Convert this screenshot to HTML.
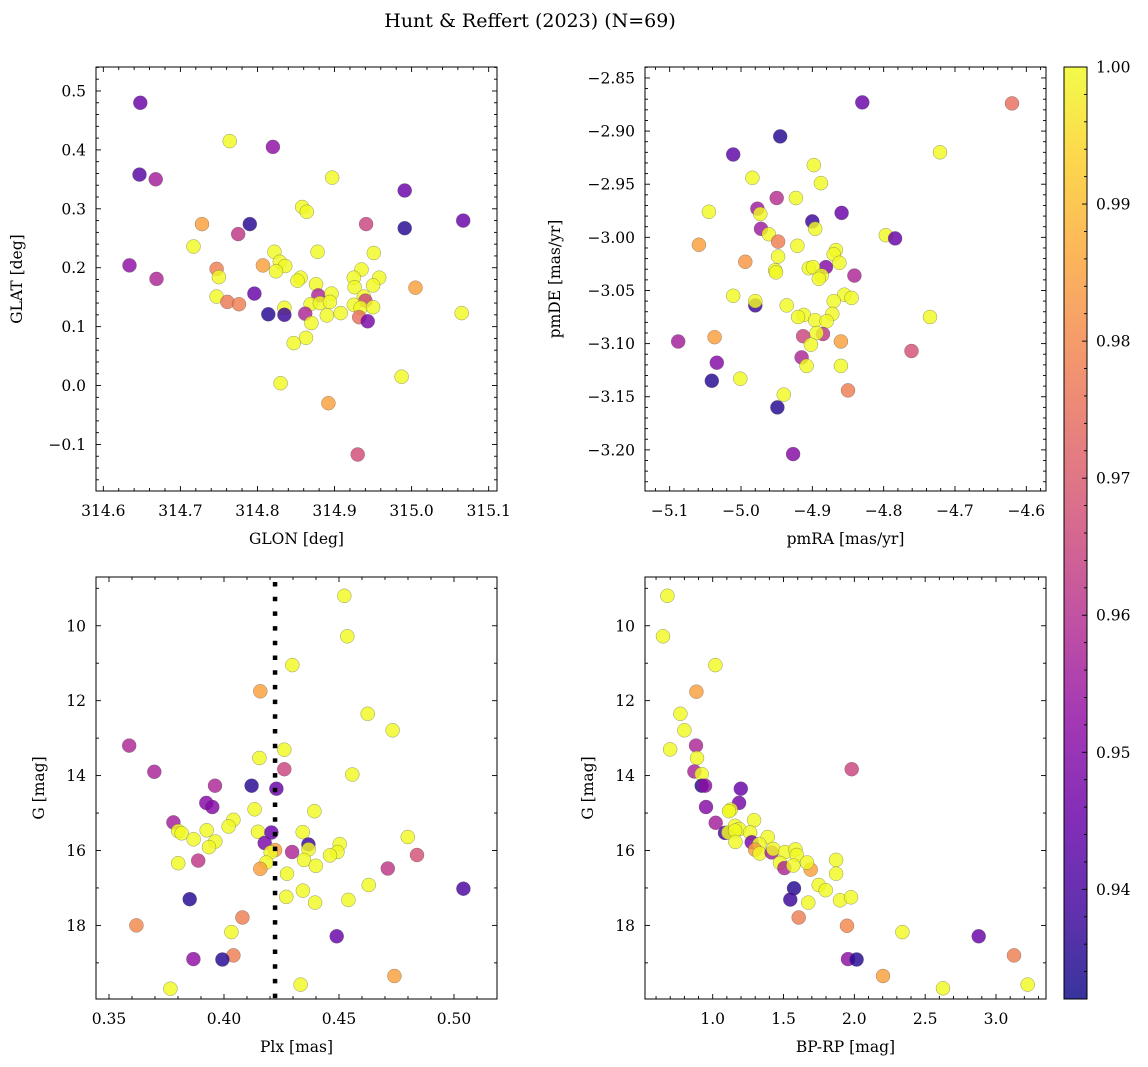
<!DOCTYPE html>
<html><head><meta charset="utf-8"><style>
html,body{margin:0;padding:0;background:#fff;}
svg{display:block;font-family:"DejaVu Serif","Liberation Serif",serif;}
</style></head><body>
<svg id="fig" width="1148" height="1067" viewBox="0 0 1148 1067" xmlns="http://www.w3.org/2000/svg">
<text x="530" y="27" font-size="19" text-anchor="middle">Hunt &amp; Reffert (2023) (N=69)</text>
</svg>
<script>
// ---- Panel 1: GLON vs GLAT ----
const p1Glon=[314.648,314.764,314.820,314.647,314.668,314.897,314.991,314.858,314.864,315.067,314.728,314.790,314.941,314.991,314.775,314.717,314.822,314.878,314.951,314.634,314.807,314.829,314.836,314.747,314.935,314.824,314.856,314.852,314.750,314.925,314.958,314.669,314.876,314.926,314.950,315.005,314.879,314.896,314.796,314.747,314.938,314.940,314.761,314.776,314.869,314.881,314.894,314.925,314.934,314.950,315.065,314.835,314.814,314.835,314.862,314.890,314.908,314.932,314.943,314.870,314.863,314.847,314.830,314.987,314.892,314.930];
const p1Glat=[0.480,0.415,0.405,0.358,0.350,0.353,0.331,0.303,0.295,0.280,0.274,0.274,0.274,0.267,0.257,0.236,0.227,0.227,0.225,0.204,0.204,0.210,0.203,0.198,0.197,0.194,0.183,0.178,0.184,0.183,0.183,0.181,0.172,0.167,0.170,0.166,0.153,0.156,0.156,0.151,0.151,0.144,0.142,0.138,0.138,0.140,0.142,0.137,0.132,0.133,0.123,0.132,0.121,0.120,0.122,0.119,0.123,0.116,0.109,0.106,0.081,0.072,0.004,0.015,-0.030,-0.117];
const p1Prob=[0.945,1,0.952,0.942,0.956,1,0.945,1,1,0.945,0.985,0.935,0.965,0.935,0.962,1,1,1,1,0.952,0.985,1,1,0.978,1,1,1,1,1,1,1,0.958,1,1,1,0.985,0.958,1,0.945,1,1,0.965,0.977,0.978,1,1,1,1,1,1,1,1,0.935,0.938,0.958,1,1,0.975,0.948,1,1,1,1,1,0.985,0.967];
// ---- Panel 2: pmRA vs pmDE ----
const p2Pmra=[-4.830,-4.620,-4.945,-5.011,-4.721,-4.898,-4.984,-4.888,-4.950,-4.923,-4.977,-4.973,-5.045,-4.859,-4.900,-4.896,-4.972,-4.961,-4.797,-4.784,-5.059,-4.948,-4.921,-4.867,-4.870,-4.948,-4.862,-4.994,-4.881,-4.905,-4.899,-4.887,-4.891,-4.952,-4.951,-4.841,-5.011,-4.855,-4.845,-4.980,-4.980,-4.936,-4.870,-4.912,-4.920,-4.872,-4.896,-4.880,-4.735,-5.088,-5.037,-4.913,-4.885,-4.894,-4.902,-4.860,-4.761,-5.034,-4.915,-4.908,-4.860,-5.041,-5.001,-4.940,-4.850,-4.949,-4.927];
const p2Pmde=[-2.873,-2.874,-2.905,-2.922,-2.920,-2.932,-2.944,-2.949,-2.963,-2.963,-2.973,-2.978,-2.976,-2.977,-2.985,-2.992,-2.992,-2.997,-2.998,-3.001,-3.007,-3.004,-3.008,-3.012,-3.016,-3.018,-3.024,-3.023,-3.028,-3.029,-3.028,-3.036,-3.039,-3.031,-3.033,-3.036,-3.055,-3.054,-3.057,-3.064,-3.060,-3.064,-3.060,-3.073,-3.075,-3.072,-3.078,-3.079,-3.075,-3.098,-3.094,-3.093,-3.091,-3.090,-3.101,-3.098,-3.107,-3.118,-3.113,-3.121,-3.121,-3.135,-3.133,-3.148,-3.144,-3.160,-3.204];
const p2Prob=[0.945,0.975,0.935,0.943,1,1,1,1,0.960,1,0.955,1,1,0.945,0.938,1,0.955,1,1,0.945,0.985,0.978,1,1,1,1,1,0.983,0.950,1,1,1,1,1,1,0.958,1,1,1,0.938,1,1,1,1,1,1,1,1,1,0.956,0.985,0.965,0.962,1,1,0.985,0.968,0.950,0.958,1,1,0.935,1,1,0.978,0.935,0.950];
// ---- Panel 3: Plx vs G ----
const p3Plx=[0.4523,0.4536,0.4297,0.4158,0.4625,0.4733,0.3588,0.4262,0.4154,0.4262,0.3697,0.4558,0.3961,0.4120,0.4228,0.3923,0.3949,0.4133,0.4393,0.3780,0.4041,0.4020,0.3925,0.3801,0.3816,0.4148,0.4206,0.4342,0.3868,0.3962,0.3935,0.4177,0.4367,0.4503,0.4799,0.4222,0.4203,0.4296,0.4368,0.4493,0.4461,0.4839,0.3888,0.3801,0.4184,0.4348,0.4399,0.4158,0.4712,0.4274,0.4629,0.5041,0.4343,0.3851,0.4271,0.4396,0.4541,0.4080,0.3619,0.4032,0.4490,0.4041,0.3867,0.3993,0.4741,0.4333,0.3767];
const p3G=[9.20,10.28,11.05,11.75,12.35,12.79,13.20,13.31,13.53,13.83,13.90,13.97,14.27,14.27,14.35,14.73,14.84,14.90,14.95,15.25,15.18,15.36,15.46,15.48,15.54,15.50,15.52,15.51,15.70,15.76,15.91,15.80,15.84,15.83,15.64,15.99,16.05,16.04,15.97,16.04,16.13,16.12,16.27,16.34,16.32,16.25,16.41,16.49,16.48,16.62,16.92,17.02,17.07,17.30,17.24,17.39,17.32,17.79,18.00,18.18,18.29,18.80,18.90,18.91,19.35,19.58,19.69];
const p3Prob=[1,1,1,0.985,1,1,0.958,1,1,0.965,0.957,1,0.958,0.935,0.945,0.950,0.950,1,1,0.956,1,1,1,1,1,1,0.945,1,1,1,1,0.948,0.938,1,1,0.985,1,0.958,1,1,1,0.968,0.962,1,1,1,1,0.985,0.962,1,1,0.940,1,0.935,1,1,1,0.978,0.980,1,0.945,0.978,0.952,0.935,0.985,1,1];
const plxCut=0.4222;
// ---- Panel 4: BP-RP vs G ----
const p4Bprp=[0.680,0.649,1.019,0.885,0.772,0.800,0.699,0.882,0.889,1.981,0.871,0.922,0.922,0.946,1.198,1.186,0.953,1.127,1.115,1.292,1.021,1.087,1.111,1.158,1.188,1.158,1.264,1.160,1.388,1.275,1.329,1.299,1.332,1.416,1.428,1.511,1.584,1.593,1.475,1.506,1.569,1.692,1.666,1.871,1.871,1.748,1.798,1.574,1.548,1.675,1.899,1.976,1.607,1.948,2.339,2.878,3.127,1.955,2.016,2.202,2.626,3.224];
const p4G=[9.20,10.28,11.05,11.76,12.35,12.79,13.30,13.20,13.53,13.83,13.89,13.96,14.27,14.27,14.35,14.73,14.84,14.91,14.95,15.19,15.26,15.53,15.52,15.34,15.43,15.47,15.52,15.77,15.64,15.78,15.83,15.98,16.08,16.05,15.96,16.04,15.97,16.12,16.33,16.47,16.40,16.51,16.32,16.25,16.62,16.92,17.06,17.01,17.31,17.39,17.33,17.25,17.79,18.01,18.18,18.29,18.80,18.90,18.91,19.35,19.68,19.58];
const p4Prob=[1,1,1,0.985,1,1,1,0.958,1,0.965,0.957,1,0.935,0.952,0.945,0.948,0.950,1,1,1,0.956,0.940,1,1,1,1,1,1,1,0.948,1,0.985,1,0.956,1,1,1,1,1,0.958,1,0.985,1,1,1,1,1,0.935,0.938,1,1,1,0.978,0.980,1,0.945,0.978,0.952,0.935,0.985,1,1];
// ---- Colorbar ----
const cbTicks=[0.94,0.95,0.96,0.97,0.98,0.99,1.00];
const cbMin=0.932, cbMax=1.0;

const NS="http://www.w3.org/2000/svg";
const svg=document.getElementById('fig');
function mk(tag,attrs,parent){const e=document.createElementNS(NS,tag);for(const k in attrs)e.setAttribute(k,attrs[k]);(parent||svg).appendChild(e);return e;}
const plasma=[[13,8,135],[65,4,157],[106,0,168],[143,13,164],[177,42,144],[204,71,120],[225,100,98],[242,132,75],[252,166,54],[252,206,37],[240,249,33]];
function cmap(v){let t=(v-cbMin)/(cbMax-cbMin);t=Math.max(0,Math.min(1,t))*10;const i=Math.min(9,Math.floor(t));const f=t-i;const a=plasma[i],b=plasma[i+1];return 'rgb('+[0,1,2].map(k=>Math.round(a[k]+(b[k]-a[k])*f)).join(',')+')';}
function fmt(v,d){const s=Math.abs(v).toFixed(d);return (v<-1e-9?'\u2212':'')+s;}

function panel(cfg){
  const g=mk('g',{});
  
  
  const L=cfg.px0,R=cfg.px1,T=cfg.py0,B=cfg.py1;
  const sx=v=>L+(v-cfg.xd[0])/(cfg.xd[1]-cfg.xd[0])*(R-L);
  const sy=v=>T+(cfg.yd[1]-v)/(cfg.yd[1]-cfg.yd[0])*(B-T);
  const clip=mk('clipPath',{id:cfg.name+'-clip'},g);
  mk('rect',{x:L,y:T,width:R-L,height:B-T},clip);
  const pts=mk('g',{'clip-path':'url(#'+cfg.name+'-clip)'},g);
  
  
  for(let i=0;i<cfg.xs.length;i++){
    const c=mk('circle',{cx:sx(cfg.xs[i]).toFixed(1),cy:sy(cfg.ys[i]).toFixed(1),r:7,fill:cmap(cfg.ps[i]),'fill-opacity':0.82,stroke:'#555','stroke-width':0.5,'stroke-opacity':0.6},pts);
    
    
  }
  if(cfg.vline!==undefined){
    const ln=mk('line',{x1:sx(cfg.vline),x2:sx(cfg.vline),y1:T+5,y2:B,stroke:'#000','stroke-width':4.5,'stroke-dasharray':'4.5 10.2'},pts);
    
    
  }
  const ax=mk('g',{stroke:'#000','stroke-width':0.9},g);
  const eps=1e-9;
  for(let v=Math.ceil(cfg.xd[0]/cfg.xmin-eps)*cfg.xmin;v<=cfg.xd[1]+eps;v+=cfg.xmin){
    const isMaj=Math.abs(v/cfg.xmaj-Math.round(v/cfg.xmaj))<1e-6;const len=isMaj?5:3;const x=sx(v);
    mk('line',{x1:x,x2:x,y1:B,y2:B-len},ax);mk('line',{x1:x,x2:x,y1:T,y2:T+len},ax);
  }
  for(let v=Math.ceil(cfg.yd[0]/cfg.ymin-eps)*cfg.ymin;v<=cfg.yd[1]+eps;v+=cfg.ymin){
    const isMaj=Math.abs(v/cfg.ymaj-Math.round(v/cfg.ymaj))<1e-6;const len=isMaj?5:3;const y=sy(v);
    mk('line',{x1:L,x2:L+len,y1:y,y2:y},ax);mk('line',{x1:R,x2:R-len,y1:y,y2:y},ax);
  }
  mk('rect',{x:L,y:T,width:R-L,height:B-T,fill:'none',stroke:'#000','stroke-width':1},g);
  for(let v=Math.ceil(cfg.xd[0]/cfg.xmaj-eps)*cfg.xmaj;v<=cfg.xd[1]+eps;v+=cfg.xmaj){
    const t=mk('text',{x:sx(v),y:B+25,'font-size':15.5,'text-anchor':'middle'},g);t.textContent=fmt(v,cfg.xdec);
    
    
  }
  for(let v=Math.ceil(cfg.yd[0]/cfg.ymaj-eps)*cfg.ymaj;v<=cfg.yd[1]+eps;v+=cfg.ymaj){
    const t=mk('text',{x:L-10,y:sy(v)+5.5,'font-size':15.5,'text-anchor':'end'},g);t.textContent=cfg.neg?fmt(-v,cfg.ydec):fmt(v,cfg.ydec);
    
    
  }
  const xl=mk('text',{x:(L+R)/2,y:B+53,'font-size':15.5,'text-anchor':'middle'},g);xl.textContent=cfg.xlab;
  
  
  const yl=mk('text',{x:cfg.ylx,y:(T+B)/2,'font-size':15.5,'text-anchor':'middle',transform:'rotate(-90 '+cfg.ylx+' '+((T+B)/2)+')'},g);yl.textContent=cfg.ylab;
  
  
}
panel({name:'glon-glat-panel',px0:96,px1:497,py0:67,py1:491,xd:[314.5905,315.1108],yd:[-0.179,0.5407],xmaj:0.1,xmin:0.02,ymaj:0.1,ymin:0.02,xdec:1,ydec:1,xs:p1Glon,ys:p1Glat,ps:p1Prob,xlab:'GLON [deg]',ylab:'GLAT [deg]',ylx:22});
panel({name:'pm-panel',px0:645,px1:1046,py0:67,py1:491,xd:[-5.1346,-4.5724],yd:[-3.2387,-2.8397],xmaj:0.1,xmin:0.02,ymaj:0.05,ymin:0.01,xdec:1,ydec:2,xs:p2Pmra,ys:p2Pmde,ps:p2Prob,xlab:'pmRA [mas/yr]',ylab:'pmDE [mas/yr]',ylx:560});
panel({name:'plx-g-panel',px0:96,px1:497,py0:577,py1:999,xd:[0.34435,0.5187],yd:[-19.965,-8.698],xmaj:0.05,xmin:0.01,ymaj:2,ymin:1,xdec:2,ydec:0,neg:true,xs:p3Plx,ys:p3G.map(v=>-v),ps:p3Prob,vline:plxCut,xlab:'Plx [mas]',ylab:'G [mag]',ylx:44});
panel({name:'cmd-panel',px0:645,px1:1046,py0:577,py1:999,xd:[0.522,3.353],yd:[-19.965,-8.698],xmaj:0.5,xmin:0.1,ymaj:2,ymin:1,xdec:1,ydec:0,neg:true,xs:p4Bprp,ys:p4G.map(v=>-v),ps:p4Prob,xlab:'BP-RP [mag]',ylab:'G [mag]',ylx:593});

// colorbar
const cb=mk('g',{});


const defs=mk('defs',{},cb);
const grad=mk('linearGradient',{id:'cbgrad',x1:0,y1:1,x2:0,y2:0},defs);
for(let i=0;i<=20;i++){const v=cbMin+(cbMax-cbMin)*i/20;mk('stop',{offset:(i/20),'stop-color':cmap(v),'stop-opacity':0.82},grad);}
const cbT=67,cbB=999,cbL=1064,cbR=1087;
const cy=v=>cbB-(v-cbMin)/(cbMax-cbMin)*(cbB-cbT);
mk('rect',{x:cbL,y:cbT,width:cbR-cbL,height:cbB-cbT,fill:'url(#cbgrad)'},cb);
for(let k=0;k<=34;k++){const v=cbMin+0.002*k;if(v>cbMax+1e-9)break;const maj=Math.abs(v*100-Math.round(v*100))<1e-6;mk('line',{x1:cbR,x2:cbR-(maj?5:3),y1:cy(v),y2:cy(v),stroke:'#000','stroke-width':0.9},cb);}
mk('rect',{x:cbL,y:cbT,width:cbR-cbL,height:cbB-cbT,fill:'none',stroke:'#000','stroke-width':1},cb);
cbTicks.forEach(v=>{const t=mk('text',{x:cbR+9,y:cy(v)+5.5,'font-size':15.5},cb);t.textContent=v.toFixed(2);
  
  });
</script>
</body></html>
